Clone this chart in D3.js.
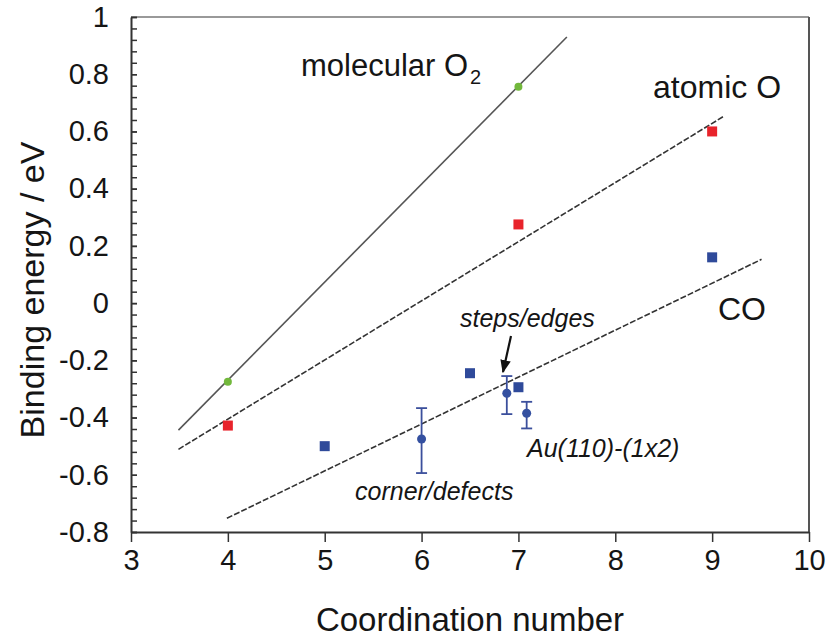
<!DOCTYPE html>
<html><head><meta charset="utf-8">
<script src="https://cdn.jsdelivr.net/npm/d3@7/dist/d3.min.js"></script>
<style>body{margin:0;background:#fff}svg{display:block}text{font-family:"Liberation Sans",Arial,sans-serif;fill:#151515}</style>
</head><body><svg id="c" width="826" height="641"></svg>
<script>
// ---- data ----
const xTicks = [3,4,5,6,7,8,9,10];
const yTicks = [-0.8,-0.6,-0.4,-0.2,0,0.2,0.4,0.6,0.8,1];
const yTickLabels = ["-0.8","-0.6","-0.4","-0.2","0","0.2","0.4","0.6","0.8","1"];
const o2X = [4,7];            const o2Y = [-0.275,0.756];
const oX  = [4,7,9];          const oY  = [-0.428,0.275,0.600];
const coX = [5,6.5,7,9];      const coY = [-0.500,-0.245,-0.294,0.160];
const coErrX  = [6,6.88,7.085];
const coErrY  = [-0.475,-0.315,-0.385];
const coErrLo = [-0.594,-0.388,-0.438];
const coErrHi = [-0.367,-0.255,-0.345];
const o2FitX = [3.49,7.5];    const o2FitY = [-0.444,0.93];
const oFitX  = [3.49,9.115];  const oFitY  = [-0.511,0.652];
const coFitX = [3.99,9.51];   const coFitY = [-0.752,0.153];

// ---- layout ----
const svg = d3.select("#c");
const L=131, R=809, T=17, B=532;
const x = d3.scaleLinear().domain([3,10]).range([L,R]);
const y = d3.scaleLinear().domain([-0.8,1]).range([B,T]);

// frame top/right
svg.append("line").attr("x1",L).attr("x2",R).attr("y1",T).attr("y2",T).attr("stroke","#999").attr("stroke-width",2);
svg.append("line").attr("x1",R).attr("x2",R).attr("y1",T).attr("y2",B).attr("stroke","#555").attr("stroke-width",2);

// minor y ticks
const minor = d3.range(-0.8,1.0001,0.04);
const gMinor = svg.append("g").attr("transform",`translate(${L},0)`)
  .call(d3.axisLeft(y).tickValues(minor).tickSizeInner(-6).tickSizeOuter(0).tickFormat(""));
gMinor.select(".domain").remove();
gMinor.selectAll("line").attr("stroke","#333").attr("stroke-width",1.5);

// y axis labels
const gy = svg.append("g").attr("transform",`translate(${L},0)`)
  .call(d3.axisLeft(y).tickValues(yTicks).tickSizeInner(-6).tickSizeOuter(0).tickPadding(22)
        .tickFormat((d,i)=>yTickLabels[i]));
gy.select(".domain").attr("stroke","#333").attr("stroke-width",2);
gy.selectAll("line").attr("stroke","#333").attr("stroke-width",1.5);
gy.selectAll("text").style("font-size","29px").style("font-family","Liberation Sans, Arial, sans-serif").attr("fill","#151515");

// x axis
const gx = svg.append("g").attr("transform",`translate(0,${B})`)
  .call(d3.axisBottom(x).tickValues(xTicks).tickSizeInner(10).tickSizeOuter(0).tickPadding(7).tickFormat(d3.format("d")));
gx.select(".domain").attr("stroke","#333").attr("stroke-width",2);
gx.selectAll("line").attr("stroke","#333").attr("stroke-width",1.5);
gx.selectAll("text").style("font-size","29px").style("font-family","Liberation Sans, Arial, sans-serif").attr("fill","#151515");

// axis titles
svg.append("text").attr("x",(L+R)/2).attr("y",631).attr("text-anchor","middle")
  .style("font-size","33px").text("Coordination number");
svg.append("text").attr("transform","rotate(-90)").attr("x",-290).attr("y",44).attr("text-anchor","middle")
  .style("font-size","34px").text("Binding energy / eV");

// fit lines
const line = d3.line().x(d=>x(d[0])).y(d=>y(d[1]));
svg.append("path").attr("d",line(d3.zip(o2FitX,o2FitY))).attr("fill","none").attr("stroke","#555").attr("stroke-width",1.6);
svg.append("path").attr("d",line(d3.zip(oFitX,oFitY))).attr("fill","none").attr("stroke","#333").attr("stroke-width",1.6).attr("stroke-dasharray","6,2");
svg.append("path").attr("d",line(d3.zip(coFitX,coFitY))).attr("fill","none").attr("stroke","#333").attr("stroke-width",1.6).attr("stroke-dasharray","6,2");

// error bars
const errG = svg.append("g");
coErrX.forEach((xv,i)=>{
  const cx=x(xv);
  errG.append("line").attr("x1",cx).attr("x2",cx).attr("y1",y(coErrLo[i])).attr("y2",y(coErrHi[i])).attr("stroke","#3b4f9c").attr("stroke-width",1.8);
  [coErrLo[i],coErrHi[i]].forEach(v=>errG.append("line").attr("x1",cx-5.5).attr("x2",cx+5.5).attr("y1",y(v)).attr("y2",y(v)).attr("stroke","#3b4f9c").attr("stroke-width",1.8));
});
svg.append("g").selectAll("circle").data(d3.zip(coErrX,coErrY)).join("circle")
  .attr("cx",d=>x(d[0])).attr("cy",d=>y(d[1])).attr("r",4.5).attr("fill","#3450a0");

// squares
const sq=10;
svg.append("g").selectAll("rect").data(d3.zip(coX,coY)).join("rect")
  .attr("x",d=>x(d[0])-sq/2).attr("y",d=>y(d[1])-sq/2).attr("width",sq).attr("height",sq).attr("fill","#2f4a9a");
svg.append("g").selectAll("rect").data(d3.zip(oX,oY)).join("rect")
  .attr("x",d=>x(d[0])-sq/2).attr("y",d=>y(d[1])-sq/2).attr("width",sq).attr("height",sq).attr("fill","#e8232b");
svg.append("g").selectAll("circle").data(d3.zip(o2X,o2Y)).join("circle")
  .attr("cx",d=>x(d[0])).attr("cy",d=>y(d[1])).attr("r",4).attr("fill","#72b83c");

// labels
const t1 = svg.append("text").attr("x",301).attr("y",76).style("font-size","31px").text("molecular O");
t1.append("tspan").attr("dx",2).attr("dy",8).style("font-size","20px").text("2");
svg.append("text").attr("x",653).attr("y",98).style("font-size","32px").text("atomic O");
svg.append("text").attr("x",718).attr("y",320).style("font-size","32px").text("CO");
const it = (tx,ty,s)=>svg.append("text").attr("x",tx).attr("y",ty).style("font-size","25px").style("font-style","italic").text(s);
it(460,327,"steps/edges");
it(527,457,"Au(110)-(1x2)");
it(355,500,"corner/defects");

// arrow
svg.append("defs").append("marker").attr("id","ah").attr("viewBox","0 0 10 10").attr("refX",9).attr("refY",5)
  .attr("markerWidth",6).attr("markerHeight",6).attr("orient","auto")
  .append("path").attr("d","M0,1 L10,5 L0,9 Z").attr("fill","#111");
svg.append("line").attr("x1",511).attr("y1",336).attr("x2",503).attr("y2",372).attr("stroke","#111").attr("stroke-width",2.2).attr("marker-end","url(#ah)");
</script></body></html>
